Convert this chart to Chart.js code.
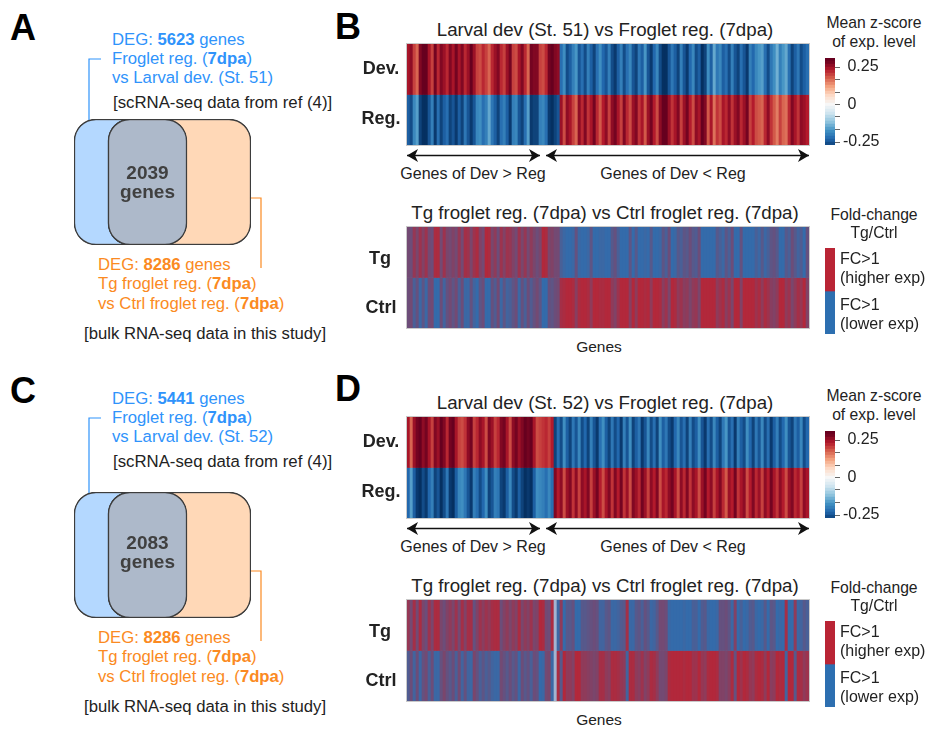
<!DOCTYPE html>
<html>
<head>
<meta charset="utf-8">
<script src="https://cdn.jsdelivr.net/npm/chart.js@4"></script>
<style>
  body { margin: 0; background: #fff; font-family: "Liberation Sans", Arial, sans-serif; }
  #page { position: relative; width: 925px; height: 729px; overflow: hidden; }
  canvas { position: absolute; }
  canvas.heat { outline: 1px solid #c9c9c9; }
  .t { position: absolute; white-space: nowrap; transform: translateY(calc(-50% + 1px)); color: #222; font-size: 16px; }
  .c { transform: translate(-50%, -50%); text-align: center; }
  svg { position: absolute; left: 0; top: 0; }
</style>
</head>
<body>
<div id="page">
<svg width="925" height="729" id="lines"></svg>
</div>
<script>
// panel B, upper heatmap (mean z-score, one value per column)
const devB = [
  .24,.26,.20,.17,.27,.29,.29,.24,.20,.28,.22,.27,.25,.22,.27,.24,.28,.24,.27,.22,
  .25,.29,.25,.20,.19,.22,.20,.17,.22,.25,.27,.22,.20,.25,.28,.20,.19,.24,.27,.22,
  .17,.28,.27,.27,.20,.19,.22,.28,.29,.27,.26,
  -.22,-.18,-.26,-.24,-.20,-.17,-.25,-.22,-.26,
  -.20,-.24,-.27,-.22,-.18,-.23,-.25,-.20,-.26,-.28,-.24,-.20,-.26,-.22,-.19,-.25,-.27,-.21,-.24,-.17,
  -.25,-.28,-.23,-.19,-.26,-.29,-.29,-.25,-.21,-.24,-.27,-.20,-.25,-.28,-.23,-.19,-.26,-.24,-.29,-.27,
  -.18,-.24,-.15,-.21,-.19,-.24,-.22,-.26,-.20,-.25,-.27,-.22,-.25,-.28,-.20,-.23,-.19,-.17,-.16,-.22,
  -.26,-.21,-.18,-.14,-.20,-.17,-.15,-.22,-.27,-.24,-.21,-.26,-.24,-.22
];
const regB = [
  -.24,-.26,-.19,-.16,-.27,-.29,-.29,-.25,-.20,-.28,-.22,-.27,-.24,-.22,-.27,-.25,-.28,-.24,-.27,-.21,
  -.25,-.28,-.25,-.19,-.18,-.22,-.20,-.15,-.21,-.24,-.27,-.22,-.20,-.24,-.28,-.20,-.19,-.25,-.27,-.22,
  -.16,-.28,-.27,-.27,-.20,-.19,-.22,-.28,-.29,-.27,-.25,
  .25,.19,.26,.24,.20,.17,.26,.22,.27,
  .21,.24,.28,.22,.18,.23,.26,.20,.26,.28,.24,.20,.27,.22,.19,.25,.27,.21,.24,.18,
  .25,.28,.23,.19,.26,.29,.29,.25,.21,.24,.27,.20,.25,.28,.23,.19,.26,.24,.29,.27,
  .18,.24,.16,.21,.19,.24,.22,.26,.21,.25,.27,.22,.25,.28,.20,.23,.19,.18,.17,.22,
  .26,.21,.18,.15,.20,.17,.16,.22,.27,.24,.21,.26,.25,.23
];
// panel B, lower heatmap (share of genes with higher expression in the column)
const tgB = [
  .5,.45,.75,.55,.8,.6,.8,.5,.45,.9,.9,.5,.8,.55,.5,.6,.5,.75,.5,.85,
  .8,.55,.8,.9,.6,.5,.95,.9,.55,.7,.45,.8,.6,.8,.75,.6,.5,.8,.55,.75,
  .5,.7,.55,.45,.55,.95,.9,.55,.6,.5,.5,
  .2,.1,.05,.05,.1,.4,.1,.05,.05,
  .1,.35,.05,.05,.1,.1,.05,.05,.3,.4,.2,.05,.05,.05,.35,.05,.3,.05,.05,.1,
  .05,.3,.05,.05,.1,.35,.2,.45,.05,.1,.3,.2,.35,.3,.45,.3,.25,.45,.05,.05,
  .05,.05,.05,.3,.2,.1,.35,.2,.45,.05,.05,.4,.05,.05,.05,.05,.2,.1,.3,.1,
  .2,.35,.4,.3,.05,.05,.3,.2,.45,.3,.15,.25,.05,.4
];
const ctrlB = [
  .45,.5,.2,.4,.1,.35,.1,.45,.5,.05,.05,.45,.15,.4,.5,.35,.5,.2,.45,.1,
  .1,.4,.15,.05,.35,.45,.05,.05,.4,.25,.5,.1,.35,.15,.2,.35,.45,.1,.4,.2,
  .45,.25,.4,.5,.35,.05,.05,.4,.35,.45,.5,
  .85,.9,.95,.95,.9,.65,.9,.95,.95,
  .9,.7,.95,.95,.9,.9,.95,.95,.7,.6,.8,.95,.95,.95,.65,.95,.7,.95,.95,.9,
  .95,.7,.95,.95,.9,.65,.8,.55,.95,.9,.7,.8,.65,.7,.55,.7,.75,.55,.95,.95,
  .95,.95,.95,.7,.8,.9,.65,.8,.55,.95,.95,.6,.95,.95,.95,.95,.8,.9,.7,.9,
  .8,.65,.6,.7,.95,.95,.7,.8,.55,.7,.85,.75,.95,.6
];
// panel D, upper heatmap
const devD = [
  .24,.17,.25,.28,.29,.26,.28,.24,.20,.27,.25,.29,.27,.22,.28,.29,.24,.20,.19,.21,
  .26,.28,.20,.22,.26,.24,.19,.27,.25,.20,.22,.27,.28,.24,.19,.26,.28,.25,.27,.29,
  .28,.29,.24,.19,.20,.21,.22,.20,.23,
  -.27,-.22,-.26,-.18,-.24,-.27,-.21,-.25,-.19,-.26,-.23,-.27,-.20,-.25,-.28,-.22,-.18,-.24,-.27,-.21,
  -.26,-.23,-.28,-.20,-.25,-.18,-.27,-.24,-.21,-.28,-.25,-.19,-.26,-.22,-.27,-.18,-.24,-.21,-.26,-.28,
  -.23,-.19,-.25,-.22,-.27,-.20,-.26,-.24,-.18,-.25,-.28,-.22,-.26,-.19,-.24,-.27,-.21,-.17,-.25,-.22,
  -.28,-.20,-.24,-.26,-.18,-.23,-.27,-.21,-.25,-.19,-.26,-.22,-.28,-.24,-.20,-.26,-.23,-.18,-.25,-.27,
  -.21,-.24,-.19,-.26,-.23
];
const regD = [
  -.23,-.16,-.24,-.28,-.29,-.26,-.28,-.23,-.20,-.27,-.25,-.29,-.26,-.21,-.28,-.29,-.24,-.19,-.18,-.21,
  -.25,-.28,-.20,-.22,-.26,-.23,-.18,-.27,-.25,-.20,-.21,-.27,-.28,-.24,-.19,-.26,-.28,-.24,-.27,-.29,
  -.28,-.29,-.24,-.18,-.19,-.20,-.22,-.19,-.22,
  .27,.23,.26,.19,.25,.27,.21,.26,.20,.26,.24,.27,.20,.25,.28,.23,.19,.24,.27,.21,
  .27,.23,.28,.21,.25,.19,.27,.25,.22,.28,.25,.20,.26,.23,.27,.19,.24,.22,.26,.28,
  .24,.19,.26,.22,.27,.21,.26,.24,.19,.25,.28,.23,.26,.20,.24,.27,.22,.18,.25,.23,
  .28,.21,.24,.26,.19,.23,.27,.22,.25,.20,.26,.23,.28,.24,.21,.26,.23,.19,.25,.27,
  .22,.24,.20,.26,.24
];
// panel D, lower heatmap (null is the pale gap column)
const tgD = [
  .75,.5,.85,.5,.9,.55,.45,.8,.55,.9,.9,.55,.45,.6,.7,.55,.8,.5,.85,.6,
  .85,.85,.4,.6,.8,.65,.8,.7,.85,.9,.9,.45,.6,.7,.55,.7,.6,.9,.55,.7,
  .6,.8,.55,.6,.95,.9,.5,.45,.9,
  null,.1,.7,.05,.3,.3,.4,.05,.05,.3,.3,.35,.4,.45,.4,
  .15,.15,.3,.35,.1,.1,.15,.25,.3,.85,.1,.1,.3,.35,.2,.4,.3,.1,.15,.3,
  .5,.5,.45,.1,.05,.05,.05,.05,.1,.05,.05,.2,.2,.05,.25,.3,.1,.05,.05,.1,
  .4,.4,.45,.35,.1,.6,.05,.2,.05,.1,.25,.3,.1,.05,.1,.3,.05,.35,.3,.05,
  .1,.05,.85,.05,.05,.7,.1,.15,.3,.2
];
const ctrlD = [
  .25,.45,.15,.45,.1,.4,.5,.2,.45,.1,.1,.4,.55,.4,.3,.45,.2,.5,.15,.4,
  .15,.1,.55,.4,.2,.35,.2,.3,.15,.1,.1,.5,.4,.3,.45,.3,.4,.1,.45,.3,
  .4,.2,.45,.4,.05,.1,.5,.55,.1,
  null,.9,.3,.95,.7,.7,.6,.95,.95,.7,.7,.65,.6,.55,.6,
  .85,.85,.7,.65,.9,.9,.85,.75,.7,.15,.9,.9,.7,.65,.8,.6,.7,.9,.85,.7,
  .5,.5,.55,.9,.95,.95,.95,.95,.9,.95,.95,.8,.8,.95,.75,.7,.9,.95,.95,.9,
  .6,.6,.55,.65,.9,.4,.95,.8,.95,.9,.75,.7,.9,.95,.9,.7,.95,.65,.7,.95,
  .9,.95,.15,.95,.95,.3,.9,.85,.7,.8
];

// colour bar levels and its axis
const zLevels = [.30,.28,.26,.24,.22,.20,.18,.16,.14,.12,.10,.08,.06,.04,.02,0,
  -.02,-.04,-.06,-.08,-.10,-.12,-.14,-.16,-.18,-.20,-.22,-.24,-.26];
const zTicks = [.25,.1667,.0833,0,-.0833,-.1667,-.25];
const zTickLabels = [' 0.25','',''," 0",'','','-0.25'];
const fcLegend = [1, 1];

// venn boxes, [from, to] along the width of the diagram
const vennBlue = [0, 113];
const vennOrange = [34, 177];
const vennBoth = [34, 113];

const RDBU = ['#053061','#2166ac','#4393c3','#92c5de','#d1e5f0','#f7f7f7','#fddbc7','#f4a582','#d6604d','#b2182b','#67001f'];
const FC_RED = [185, 36, 53];
const FC_BLUE = [45, 111, 176];

function hex(c) { return [1, 3, 5].map(i => parseInt(c.substr(i, 2), 16)); }

function zColor(v) {
  const p = Math.max(0, Math.min(9.999, (v + .29) / .058));
  const i = Math.floor(p);
  const a = hex(RDBU[i]), b = hex(RDBU[i + 1]);
  return 'rgb(' + a.map((x, k) => Math.round(x + (b[k] - x) * (p - i))).join(',') + ')';
}

function fcColor(v) {
  if (v === null) return '#a3b4d0';
  return 'rgb(' + FC_BLUE.map((x, k) => Math.round(x + (FC_RED[k] - x) * v)).join(',') + ')';
}

const page = document.getElementById('page');

function addCanvas(x, y, w, h, cls) {
  const cv = document.createElement('canvas');
  cv.width = w; cv.height = h;
  cv.style.left = x + 'px'; cv.style.top = y + 'px';
  cv.style.width = w + 'px'; cv.style.height = h + 'px';
  if (cls) cv.className = cls;
  page.appendChild(cv);
  return cv;
}

function text(html, x, y, style, center) {
  const d = document.createElement('div');
  d.className = center ? 't c' : 't';
  d.innerHTML = html;
  d.style.left = x + 'px'; d.style.top = y + 'px';
  if (style) d.style.cssText += style;
  page.appendChild(d);
}

// two stripes rows, each column one floating bar
function heatmap(y, top, bottom, colorOf) {
  new Chart(addCanvas(407, y, 402, 101, 'heat'), {
    type: 'bar',
    data: {
      labels: top.map((_, i) => i),
      datasets: [
        { data: top.map(() => [1, 2]), backgroundColor: top.map(colorOf), barPercentage: 1, categoryPercentage: 1 },
        { data: bottom.map(() => [0, 1]), backgroundColor: bottom.map(colorOf), barPercentage: 1, categoryPercentage: 1 }
      ]
    },
    options: {
      responsive: false, animation: false,
      plugins: { legend: { display: false }, tooltip: { enabled: false } },
      scales: {
        x: { display: false, stacked: true },
        y: { display: false, min: 0, max: 2 }
      }
    }
  });
}

function colorBar(y) {
  new Chart(addCanvas(825, y - 12, 70, 111), {
    type: 'bar',
    data: {
      datasets: [{
        data: zLevels.map(v => ({ x: 1, y: v })),
        backgroundColor: zLevels.map(zColor),
        barPercentage: 1.15, categoryPercentage: 1
      }]
    },
    options: {
      indexAxis: 'y', responsive: false, animation: false,
      layout: { padding: { top: 12, bottom: 12 } },
      plugins: { legend: { display: false }, tooltip: { enabled: false } },
      scales: {
        x: { display: false, min: 0, max: 1 },
        y: {
          type: 'linear', position: 'right', offset: false, min: -.27, max: .31,
          afterBuildTicks: s => { s.ticks = zTicks.map(v => ({ value: v })); },
          afterFit: s => { s.width = 60; s.paddingTop = 0; s.paddingBottom = 0; },
          border: { display: false },
          grid: { offset: false, drawOnChartArea: false, tickLength: 5, color: '#666' },
          ticks: {
            autoSkip: false, padding: 3, color: '#222',
            font: { family: '"Liberation Sans"', size: 16 },
            callback: (v, i) => zTickLabels[i]
          }
        }
      }
    }
  });
}

function fcBar(y) {
  new Chart(addCanvas(825, y, 10, 86), {
    type: 'bar',
    data: {
      labels: ['FC'],
      datasets: [
        { label: 'higher exp', data: [fcLegend[0]], backgroundColor: fcColor(1), barPercentage: 1, categoryPercentage: 1 },
        { label: 'lower exp', data: [fcLegend[1]], backgroundColor: fcColor(0), barPercentage: 1, categoryPercentage: 1 }
      ]
    },
    options: {
      responsive: false, animation: false,
      plugins: { legend: { display: false }, tooltip: { enabled: false } },
      scales: {
        x: { display: false, stacked: true },
        y: { display: false, stacked: true, reverse: true, min: 0, max: 2 }
      }
    }
  });
}

function venn(y) {
  const box = (data, color) => ({
    data: [data], backgroundColor: color, borderColor: '#3d3d3d', borderWidth: 1.5,
    borderSkipped: false, borderRadius: 22, barPercentage: 1, categoryPercentage: 1, grouped: false
  });
  new Chart(addCanvas(70, y - 4, 185, 134), {
    type: 'bar',
    data: {
      labels: ['genes'],
      datasets: [box(vennBoth, '#adb9ca'), box(vennOrange, '#ffd8b7'), box(vennBlue, '#b4d8ff')]
    },
    options: {
      indexAxis: 'y', responsive: false, animation: false,
      layout: { padding: 4 },
      plugins: { legend: { display: false }, tooltip: { enabled: false } },
      scales: { x: { display: false, min: 0, max: 177 }, y: { display: false } }
    }
  });
}

const svgNS = 'http://www.w3.org/2000/svg';
const lines = document.getElementById('lines');
function path(d, stroke, fill, w) {
  const p = document.createElementNS(svgNS, 'path');
  p.setAttribute('d', d);
  p.setAttribute('fill', fill || 'none');
  if (stroke) { p.setAttribute('stroke', stroke); p.setAttribute('stroke-width', w || 1.2); }
  lines.appendChild(p);
}
function arrow(x0, x1, y) {
  path(`M${x0} ${y}H${x1}`, '#111', null, 1.3);
  path(`M${x0} ${y}l11 -6.5l-3 6.5l3 6.5z`, null, '#111');
  path(`M${x1} ${y}l-11 -6.5l3 6.5l-3 6.5z`, null, '#111');
}

const BLUE = '#2f93fb', ORANGE = '#fb8a22';

function vennPanel(letter, letterY, dy, blueDy, numDy, n, stage, blueN) {
  text(letter, 10, letterY, 'font:bold 36px "Liberation Sans";color:#000');
  const blueFont = 'font-size:16.7px;color:' + BLUE;
  const orangeFont = 'font-size:16.7px;color:' + ORANGE;
  text(`DEG: <b>${blueN}</b> genes`, 112, 39 + blueDy, blueFont);
  text('Froglet reg. (<b>7dpa</b>)', 112, 58 + blueDy, blueFont);
  text(`vs Larval dev. (St. ${stage})`, 112, 77 + blueDy, blueFont);
  text('[scRNA-seq data from ref (4)]', 113, 102 + blueDy, 'font-size:16.8px');
  path(`M89 ${138 + dy}V${59 + blueDy}H101`, BLUE);
  venn(119 + dy);
  text(n, 147.5, 173 + numDy, 'font:bold 19px "Liberation Sans";color:#404040', true);
  text('genes', 147.5, 192 + numDy, 'font:bold 19px "Liberation Sans";color:#404040', true);
  path(`M241 ${198 + dy}H261V${268 + dy}`, ORANGE);
  text('DEG: <b>8286</b> genes', 98, 264 + dy, orangeFont);
  text('Tg froglet reg. (<b>7dpa</b>)', 98, 283 + dy, orangeFont);
  text('vs Ctrl froglet reg. (<b>7dpa</b>)', 98, 303 + dy, orangeFont);
  text('[bulk RNA-seq data in this study]', 84, 333 + dy, 'font-size:16.7px');
}

function heatPanel(letter, letterY, dy, stage, split, dev, reg, tg, ctrl) {
  text(letter, 335, letterY, 'font:bold 36px "Liberation Sans";color:#000');
  const rowFont = 'font:bold 18px "Liberation Sans"';
  text(`Larval dev (St. ${stage}) vs Froglet reg. (7dpa)`, 605, 30 + dy, 'font-size:18.7px', true);
  heatmap(44 + dy, dev, reg, zColor);
  text('Dev.', 381, 68 + dy, rowFont, true);
  text('Reg.', 381, 118 + dy, rowFont, true);
  arrow(407, split - 20, 155.5 + dy);
  arrow(split - 14, 809, 155.5 + dy);
  text('Genes of Dev &gt; Reg', 473, 174 + dy, 'font-size:16px', true);
  text('Genes of Dev &lt; Reg', 673, 174 + dy, 'font-size:16px', true);
  text('Tg froglet reg. (7dpa) vs Ctrl froglet reg. (7dpa)', 605, 213 + dy, 'font-size:18.7px', true);
  heatmap(227 + dy, tg, ctrl, fcColor);
  text('Tg', 380, 258 + dy, rowFont, true);
  text('Ctrl', 381, 307 + dy, rowFont, true);
  text('Genes', 599, 347 + dy, 'font-size:15.5px', true);

  text('Mean z-score', 874, 23 + dy, 'font-size:15.7px', true);
  text('of exp. level', 874, 42 + dy, 'font-size:15.7px', true);
  colorBar(58 + dy);
  text('Fold-change', 874, 215 + dy, 'font-size:15.7px', true);
  text('Tg/Ctrl', 874, 233 + dy, 'font-size:15.7px', true);
  fcBar(248 + dy);
  text('FC&gt;1', 840, 258 + dy);
  text('(higher exp)', 840, 277 + dy);
  text('FC&gt;1', 840, 304 + dy);
  text('(lower exp)', 840, 323 + dy);
}

vennPanel('A', 27, 0, 0, 0, '2039', '51', '5623');
vennPanel('C', 390, 373, 359, 370, '2083', '52', '5441');
heatPanel('B', 26, 0, '51', 560, devB, regB, tgB, ctrlB);
heatPanel('D', 388, 373, '52', 560, devD, regD, tgD, ctrlD);
</script>
</body>
</html>
